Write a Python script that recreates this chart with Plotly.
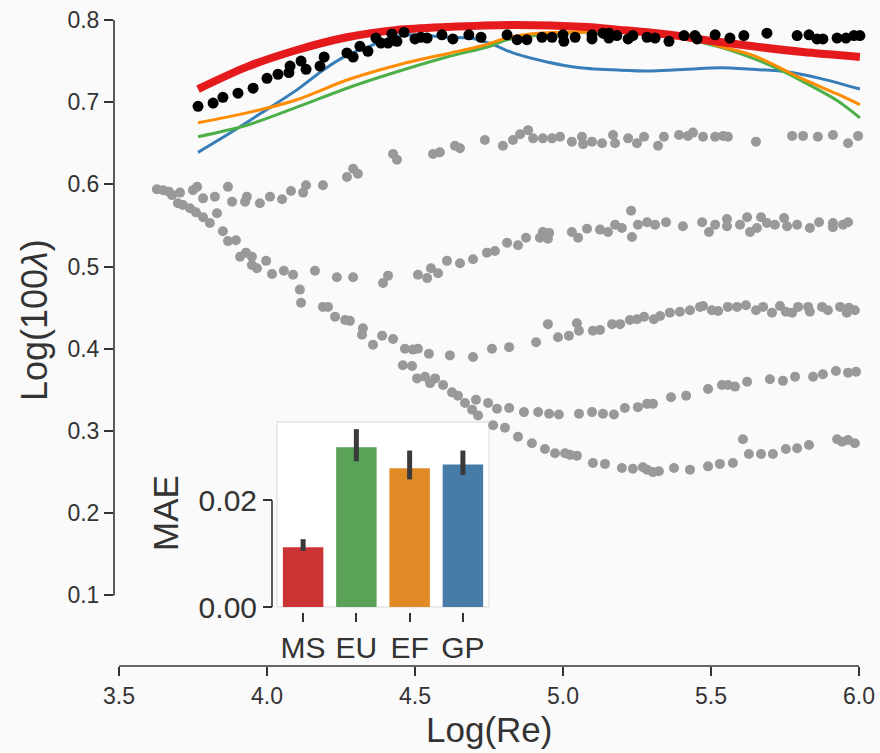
import plotly.graph_objects as go

# ---------------- data (Log(Re), Log(100*lambda)) ----------------
gray_x = [
    # laminar / common start
    3.628, 3.649, 3.669, 3.679, 3.706, 3.699, 3.716, 3.740, 3.760, 3.784, 3.807, 3.831,
    3.851, 3.868, 3.895, 3.909, 3.929, 3.949, 3.949, 3.966, 4.111, 4.115, 4.189, 4.206,
    4.230, 4.264, 4.280, 4.324, 4.321, 4.358, 4.459, 4.490, 4.507, 4.534, 4.551, 4.568,
    4.595, 4.625, 4.645, 4.669, 4.693, 4.713, 4.764, 4.804,
    # branch A (top gray)
    3.750, 3.764, 3.784, 3.824, 3.868, 3.882, 3.932, 3.926, 3.976, 4.010, 4.051, 4.081,
    4.122, 4.132, 4.189, 4.270, 4.291, 4.307, 4.426, 4.439, 4.561, 4.584, 4.635, 4.652,
    4.736, 4.797, 4.831, 4.855, 4.882, 4.899, 4.932, 4.963, 4.990, 5.030, 5.064, 5.068,
    5.098, 5.132, 5.169, 5.176, 5.220, 5.250, 5.274, 5.321, 5.341, 5.392, 5.422, 5.439,
    5.473, 5.514, 5.541, 5.557, 5.652, 5.774, 5.811, 5.861, 5.912, 5.963, 5.997,
    # branch B
    3.997, 4.017, 4.057, 4.088, 4.162, 4.236, 4.291, 4.392, 4.409, 4.510, 4.541, 4.554,
    4.578, 4.608, 4.652, 4.696, 4.743, 4.770, 4.811, 4.848, 4.875, 4.922, 4.932, 4.953,
    4.949, 5.030, 5.051, 5.081, 5.125, 5.152, 5.176, 5.199, 5.230, 5.233, 5.253, 5.284,
    5.311, 5.348, 5.405, 5.470, 5.493, 5.514, 5.554, 5.554, 5.598, 5.622, 5.632, 5.655,
    5.669, 5.689, 5.716, 5.747, 5.757, 5.791, 5.834, 5.865, 5.912, 5.912, 5.946, 5.963,
    # branch C
    4.389, 4.426, 4.466, 4.493, 4.510, 4.547, 4.618, 4.696, 4.760, 4.818, 4.909, 4.949,
    4.983, 5.020, 5.047, 5.054, 5.101, 5.125, 5.166, 5.193, 5.226, 5.250, 5.274, 5.307,
    5.328, 5.361, 5.395, 5.429, 5.463, 5.473, 5.503, 5.524, 5.557, 5.588, 5.618, 5.652,
    5.676, 5.706, 5.733, 5.753, 5.774, 5.794, 5.828, 5.834, 5.875, 5.895, 5.936, 5.959,
    5.966, 5.986,
    # branch D
    4.706, 4.747, 4.777, 4.818, 4.868, 4.916, 4.953, 4.986, 5.054, 5.098, 5.135, 5.172,
    5.209, 5.253, 5.284, 5.304, 5.365, 5.416, 5.490, 5.537, 5.557, 5.581, 5.622, 5.699,
    5.743, 5.784, 5.845, 5.878, 5.922, 5.963, 5.990,
    # branch E (lowest)
    4.848, 4.895, 4.939, 4.973, 5.007, 5.024, 5.047, 5.101, 5.142, 5.199, 5.236, 5.270,
    5.284, 5.304, 5.324, 5.375, 5.429, 5.490, 5.530, 5.574, 5.608, 5.628, 5.669, 5.709,
    5.753, 5.791, 5.831, 5.926, 5.943, 5.963, 5.986,
]
gray_y = [
    0.594, 0.593, 0.591, 0.587, 0.590, 0.577, 0.575, 0.571, 0.566, 0.560, 0.553, 0.565,
    0.543, 0.531, 0.532, 0.512, 0.517, 0.512, 0.502, 0.498, 0.472, 0.456, 0.451, 0.451,
    0.439, 0.435, 0.434, 0.425, 0.417, 0.405, 0.380, 0.379, 0.364, 0.366, 0.358, 0.364,
    0.356, 0.347, 0.343, 0.334, 0.326, 0.319, 0.307, 0.304,
    0.593, 0.597, 0.583, 0.585, 0.597, 0.579, 0.585, 0.579, 0.577, 0.585, 0.582, 0.592,
    0.590, 0.599, 0.599, 0.609, 0.619, 0.613, 0.637, 0.630, 0.637, 0.639, 0.647, 0.644,
    0.654, 0.647, 0.654, 0.661, 0.666, 0.656, 0.656, 0.656, 0.658, 0.652, 0.658, 0.649,
    0.652, 0.650, 0.660, 0.650, 0.656, 0.650, 0.658, 0.647, 0.658, 0.660, 0.659, 0.663,
    0.658, 0.658, 0.659, 0.658, 0.652, 0.659, 0.659, 0.658, 0.660, 0.650, 0.659,
    0.507, 0.491, 0.495, 0.490, 0.495, 0.487, 0.487, 0.480, 0.489, 0.490, 0.486, 0.498,
    0.492, 0.507, 0.504, 0.509, 0.517, 0.519, 0.529, 0.526, 0.535, 0.535, 0.542, 0.541,
    0.534, 0.542, 0.535, 0.546, 0.545, 0.542, 0.551, 0.547, 0.568, 0.536, 0.551, 0.554,
    0.551, 0.554, 0.549, 0.554, 0.542, 0.551, 0.558, 0.549, 0.551, 0.560, 0.542, 0.547,
    0.560, 0.553, 0.551, 0.559, 0.549, 0.551, 0.547, 0.554, 0.553, 0.548, 0.551, 0.554,
    0.416, 0.412, 0.400, 0.399, 0.400, 0.394, 0.392, 0.390, 0.400, 0.402, 0.408, 0.430,
    0.414, 0.416, 0.431, 0.422, 0.422, 0.423, 0.430, 0.430, 0.435, 0.436, 0.439, 0.436,
    0.440, 0.444, 0.445, 0.447, 0.451, 0.452, 0.447, 0.446, 0.451, 0.451, 0.453, 0.447,
    0.451, 0.444, 0.452, 0.445, 0.444, 0.451, 0.451, 0.445, 0.451, 0.447, 0.451, 0.444,
    0.450, 0.447,
    0.338, 0.334, 0.327, 0.328, 0.323, 0.323, 0.321, 0.320, 0.321, 0.323, 0.321, 0.320,
    0.328, 0.329, 0.333, 0.333, 0.341, 0.343, 0.351, 0.356, 0.356, 0.354, 0.360, 0.363,
    0.361, 0.366, 0.366, 0.369, 0.373, 0.371, 0.372,
    0.293, 0.285, 0.278, 0.273, 0.273, 0.271, 0.270, 0.261, 0.260, 0.255, 0.254, 0.256,
    0.253, 0.250, 0.251, 0.255, 0.253, 0.257, 0.260, 0.261, 0.290, 0.272, 0.272, 0.272,
    0.278, 0.279, 0.283, 0.290, 0.287, 0.289, 0.285,
]

black_x = [
    3.767, 3.818, 3.851, 3.902, 3.953, 4.000, 4.037, 4.074, 4.078, 4.115, 4.132, 4.179,
    4.193, 4.270, 4.291, 4.314, 4.341, 4.368, 4.385, 4.409, 4.422, 4.439, 4.463, 4.500,
    4.520, 4.541, 4.591, 4.628, 4.682, 4.723, 4.811, 4.845, 4.878, 4.929, 4.963, 5.000,
    5.003, 5.041, 5.098, 5.098, 5.135, 5.155, 5.155, 5.182, 5.220, 5.236, 5.284, 5.311,
    5.358, 5.409, 5.446, 5.453, 5.514, 5.564, 5.611, 5.689, 5.791, 5.831, 5.858, 5.878,
    5.926, 5.956, 5.983, 6.003,
]
black_y = [
    0.695, 0.699, 0.706, 0.711, 0.717, 0.729, 0.734, 0.736, 0.744, 0.750, 0.740, 0.744,
    0.755, 0.760, 0.755, 0.768, 0.762, 0.778, 0.772, 0.772, 0.783, 0.774, 0.785, 0.777,
    0.779, 0.778, 0.782, 0.777, 0.782, 0.779, 0.782, 0.776, 0.776, 0.779, 0.779, 0.782,
    0.774, 0.779, 0.782, 0.777, 0.784, 0.784, 0.778, 0.781, 0.777, 0.781, 0.779, 0.778,
    0.774, 0.781, 0.781, 0.777, 0.782, 0.778, 0.781, 0.784, 0.781, 0.782, 0.777, 0.777,
    0.778, 0.778, 0.781, 0.781,
]

ms_x = [3.767, 3.932, 4.101, 4.270, 4.439, 4.608, 4.831, 5.081, 5.193, 5.362, 5.473, 5.642, 5.811, 6.003]
ms_y = [0.716, 0.743, 0.7635, 0.779, 0.788, 0.7915, 0.794, 0.7915, 0.788, 0.782, 0.776, 0.768, 0.761, 0.755]

gp_x = [3.767, 3.875, 3.986, 4.101, 4.189, 4.270, 4.338, 4.426, 4.493, 4.608, 4.686, 4.764,
        4.831, 4.946, 5.057, 5.193, 5.304, 5.419, 5.530, 5.642, 5.757, 5.868, 6.003]
gp_y = [0.639, 0.6625, 0.688, 0.715, 0.739, 0.757, 0.767, 0.779, 0.782, 0.779, 0.778, 0.770,
        0.760, 0.749, 0.742, 0.739, 0.738, 0.740, 0.742, 0.740, 0.737, 0.729, 0.716]

ef_x = [3.767, 3.932, 4.101, 4.270, 4.439, 4.608, 4.720, 4.811, 4.889, 5.000, 5.193, 5.362,
        5.453, 5.530, 5.642, 5.811, 5.926, 6.003]
ef_y = [0.675, 0.687, 0.703, 0.727, 0.745, 0.759, 0.768, 0.778, 0.783, 0.785, 0.785, 0.782,
        0.777, 0.768, 0.757, 0.728, 0.710, 0.697]

eu_x = [3.767, 3.932, 4.101, 4.270, 4.439, 4.608, 4.753, 4.811, 5.000, 5.193, 5.362, 5.530,
        5.699, 5.811, 5.926, 6.003]
eu_y = [0.658, 0.672, 0.694, 0.717, 0.737, 0.755, 0.768, 0.776, 0.784, 0.785, 0.780, 0.767,
        0.745, 0.725, 0.702, 0.681]

# inset MAE bars
mae_labels = ["MS", "EU", "EF", "GP"]
mae_vals = [0.0112, 0.0299, 0.0260, 0.0267]
mae_lo = [0.0105, 0.0273, 0.0239, 0.0247]
mae_hi = [0.0127, 0.0333, 0.0293, 0.0293]
mae_colors = ["#cb3335", "#59a257", "#df8a24", "#477ca8"]

xticks = [3.5, 4.0, 4.5, 5.0, 5.5, 6.0]
yticks = [0.1, 0.2, 0.3, 0.4, 0.5, 0.6, 0.7, 0.8]

FONT = "Liberation Sans, Arial, Helvetica, sans-serif"
NARROW = "Liberation Sans Narrow, Arial Narrow, Liberation Sans, Arial, sans-serif"
AX = "#333333"

fig = go.Figure()

fig.add_trace(go.Scatter(x=gray_x, y=gray_y, mode="markers",
                         marker=dict(size=10, color="#999999", line=dict(width=0)),
                         showlegend=False, cliponaxis=False))
fig.add_trace(go.Scatter(x=gp_x, y=gp_y, mode="lines", line=dict(color="#377eb8", width=3, shape="spline", smoothing=0.8),
                         showlegend=False))
fig.add_trace(go.Scatter(x=eu_x, y=eu_y, mode="lines", line=dict(color="#4daf4a", width=3, shape="spline", smoothing=0.8),
                         showlegend=False))
fig.add_trace(go.Scatter(x=ef_x, y=ef_y, mode="lines", line=dict(color="#ff8c00", width=3, shape="spline", smoothing=0.8),
                         showlegend=False))
fig.add_trace(go.Scatter(x=ms_x, y=ms_y, mode="lines", line=dict(color="#e41a1c", width=8, shape="spline", smoothing=0.8),
                         showlegend=False))
fig.add_trace(go.Scatter(x=black_x, y=black_y, mode="markers",
                         marker=dict(size=11, color="#000000", line=dict(width=0)),
                         showlegend=False, cliponaxis=False))

# inset bars
fig.add_trace(go.Bar(x=mae_labels, y=mae_vals, xaxis="x2", yaxis="y2", width=0.76,
                     marker=dict(color=mae_colors, line=dict(width=0)),
                     error_y=dict(type="data", symmetric=False,
                                  array=[h - v for h, v in zip(mae_hi, mae_vals)],
                                  arrayminus=[v - l for v, l in zip(mae_vals, mae_lo)],
                                  color="#3a3a3a", thickness=5, width=0),
                     showlegend=False))

# pixel geometry helpers (layout only)
L, R, T, B = 114, 866, 10, 666
W, H = R - L, B - T
def px(xp):
    return (xp - L) / W
def py(yp):
    return (B - yp) / H

fig.update_layout(
    width=880, height=753,
    margin=dict(l=L, r=880 - R, t=T, b=753 - B),
    paper_bgcolor="#fafafa", plot_bgcolor="rgba(0,0,0,0)",
    font=dict(family=FONT, color=AX, size=23),
    xaxis=dict(range=[3.5 - 5 / 296, 3.5 + (R - 119) / 296], tickvals=xticks,
               ticktext=["%.1f" % v for v in xticks], ticks="outside", ticklen=9,
               tickwidth=1.5, tickcolor=AX, showgrid=False, zeroline=False, showline=False,
               automargin=False, tickfont=dict(size=23, color=AX)),
    yaxis=dict(range=[0.8 - (B - 20) / 822, 0.8 + (20 - T) / 822], tickvals=yticks,
               ticktext=["%.1f" % v for v in yticks], ticks="outside", ticklen=9,
               tickwidth=1.5, tickcolor=AX, showgrid=False, zeroline=False, showline=False,
               automargin=False, tickfont=dict(size=23, color=AX)),
    xaxis2=dict(domain=[px(277), px(489)], anchor="free", position=py(612),
                range=[-0.49, 3.49], ticks="outside", ticklen=9, tickwidth=1.5,
                tickcolor=AX, showgrid=False, zeroline=False, showline=False,
                automargin=False, tickfont=dict(size=30, color=AX, family=NARROW)),
    yaxis2=dict(domain=[py(607), py(422)], anchor="free", position=px(272),
                range=[0, (607 - 422) / 5340], tickvals=[0, 0.02], ticktext=["0.00", "0.02"],
                ticks="outside", ticklen=9, tickwidth=1.5, tickcolor=AX, showgrid=False,
                zeroline=False, showline=False, automargin=False,
                tickfont=dict(size=30, color=AX, family=NARROW)),
    bargap=0.2,
)

shapes = [
    # inset panel background
    dict(type="rect", xref="paper", yref="paper", x0=px(277), x1=px(489), y0=py(607), y1=py(422),
         fillcolor="#ffffff", line=dict(color="#d9d9d9", width=1), layer="below"),
    # trimmed main spines
    dict(type="line", xref="paper", yref="y", x0=0, x1=0, y0=0.1, y1=0.8,
         line=dict(color=AX, width=1.6)),
    dict(type="line", xref="x", yref="paper", x0=3.5, x1=6.0, y0=0, y1=0,
         line=dict(color=AX, width=1.6)),
    # trimmed inset y spine
    dict(type="line", xref="paper", yref="y2", x0=px(272), x1=px(272), y0=0, y1=0.02,
         line=dict(color=AX, width=1.6)),
]
fig.update_layout(shapes=shapes)

fig.add_annotation(text="Log(100<i>λ</i>)", xref="paper", yref="paper", x=px(34), y=py(320),
                   textangle=-90, showarrow=False, font=dict(size=36, color=AX, family=FONT),
                   xanchor="center", yanchor="middle")
fig.add_annotation(text="Log(Re)", xref="paper", yref="paper", x=px(489), y=py(729),
                   showarrow=False, font=dict(size=35, color=AX, family=FONT),
                   xanchor="center", yanchor="middle")
fig.add_annotation(text="MAE", xref="paper", yref="paper", x=px(165), y=py(513),
                   textangle=-90, showarrow=False, font=dict(size=35, color=AX, family=FONT),
                   xanchor="center", yanchor="middle")

fig.write_html("out.html", config={"displayModeBar": False},
               post_script="document.body.style.margin='0';document.body.style.overflow='hidden';")
